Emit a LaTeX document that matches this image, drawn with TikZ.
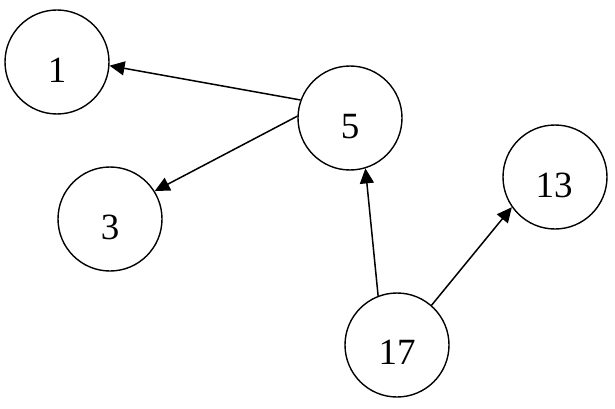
\documentclass[tikz,border=0pt]{standalone}
\usepackage{fontspec}
\setmainfont{Liberation Serif}
\usetikzlibrary{arrows.meta}
\begin{document}
\begin{tikzpicture}[x=1pt,y=-1pt,
  vtx/.style={draw, circle, line width=1.4pt, minimum size=104pt, inner sep=0pt},
  lbl/.style={inner sep=0pt, font=\fontsize{37}{43}\selectfont},
  edge/.style={line width=1.5pt, -{Triangle[length=15pt,width=14pt]}}]
\useasboundingbox (0,0) rectangle (615,409);
\node[vtx] (n1) at (57,62) {};
\node[vtx] (n5) at (350,118) {};
\node[vtx] (n3) at (110,219) {};
\node[vtx] (n13) at (555,177) {};
\node[vtx] (n17) at (397,345) {};
\node[lbl] (t1) at (57,70) {1};
\node[lbl] (t5) at (350,127) {5};
\node[lbl] (t3) at (110,227) {3};
\node[lbl] (t13) at (554,185) {13};
\node[lbl] (t17) at (397,352) {17};
\draw[edge] (n5.160) -- (n1.-4);
\draw[edge] (n5.178) -- (n3.32);
\draw[edge] (n17.111) -- (n5.-73);
\draw[edge] (n17.49) -- (n13.215);
\end{tikzpicture}
\end{document}
